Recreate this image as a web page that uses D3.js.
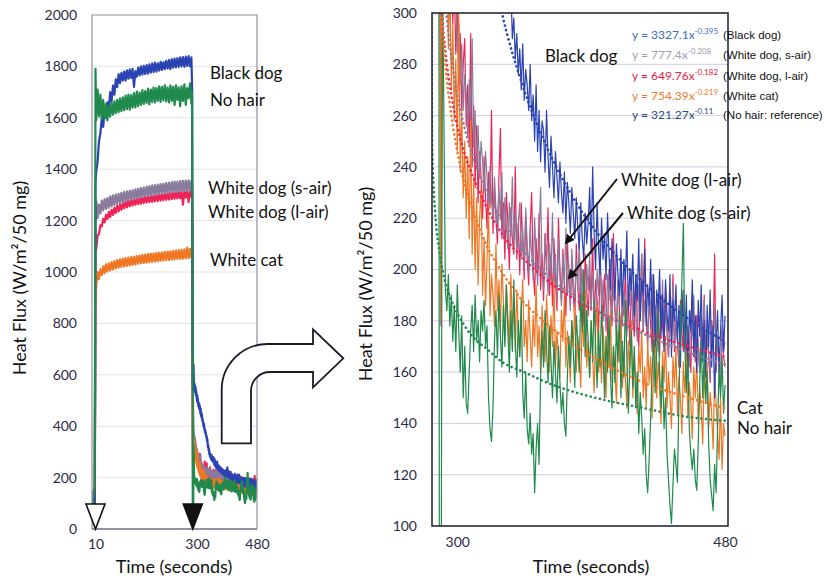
<!DOCTYPE html>
<html>
<head>
<meta charset="utf-8">
<script src="https://cdn.jsdelivr.net/npm/d3@7"></script>
<style>
  body { margin: 0; background: #fff; }
  svg { display: block; font-family: Lato, "Open Sans", sans-serif; }
  .tick text { fill: #2b2b45; font-size: 14px; font-family: Lato, sans-serif; }
  .label { fill: #111; font-size: 17px; }
  .eq { font-size: 12px; }
  .eq-name { font-family: "Liberation Sans", Arial, sans-serif; font-size: 11.5px; fill: #111; }
</style>
</head>
<body>
<div id="wrapper"></div>
<script>
// sampling times (seconds)
const riseTimes = [0, 4, 8, 10].concat(d3.range(12, 285, 4), [286]);
const decayTimes = d3.range(288, 481);
const trendTimes = [282.5, 283, 284, 285, 286, 288, 290, 293, 296, 300, 305, 310, 320, 330, 345, 360, 380, 400, 425, 450, 480];

// heat flux while the lamp is on (W/m2/50 mg)
const blackDogRise = [60, 40, 90, 1350,
  1390, 1430, 1510, 1540, 1600, 1565, 1630, 1600, 1660, 1635,
  1700, 1665, 1725, 1690, 1750, 1720, 1770, 1735, 1775, 1745,
  1780, 1745, 1785, 1752, 1788, 1755, 1790, 1720, 1782, 1760,
  1795, 1765, 1800, 1768, 1802, 1770, 1805, 1772, 1808, 1776,
  1812, 1778, 1815, 1780, 1812, 1784, 1818, 1786, 1816, 1790,
  1822, 1792, 1825, 1790, 1828, 1795, 1830, 1796, 1832, 1798,
  1835, 1800, 1836, 1798, 1838, 1802, 1840, 1800, 1835,
  1720];
const noHairRise = [80, 120, 160, 1790,
  1590, 1710, 1605, 1690, 1595, 1670, 1600, 1655, 1590, 1645,
  1605, 1660, 1612, 1664, 1618, 1670, 1622, 1676, 1626, 1680,
  1630, 1686, 1634, 1690, 1632, 1688, 1640, 1696, 1640, 1702,
  1645, 1698, 1650, 1708, 1654, 1704, 1658, 1714, 1652, 1710,
  1662, 1718, 1660, 1716, 1666, 1722, 1662, 1720, 1668, 1726,
  1664, 1718, 1660, 1726, 1666, 1720, 1650, 1726, 1670, 1718,
  1645, 1722, 1666, 1730, 1650, 1716, 1676, 1734, 1655,
  1700];
const whiteDogSAirRise = [70, 100, 140, 1200,
  1275, 1210, 1262, 1228, 1278, 1240, 1284, 1246, 1288, 1250,
  1294, 1255, 1298, 1260, 1302, 1265, 1304, 1270, 1308, 1272,
  1312, 1275, 1314, 1280, 1317, 1282, 1318, 1285, 1322, 1286,
  1324, 1290, 1327, 1292, 1328, 1294, 1332, 1296, 1334, 1298,
  1337, 1300, 1338, 1302, 1340, 1304, 1342, 1305, 1344, 1308,
  1346, 1308, 1348, 1310, 1350, 1312, 1352, 1312, 1352, 1314,
  1354, 1315, 1355, 1316, 1356, 1316, 1357, 1318, 1355,
  1330];
const whiteDogLAirRise = [90, 130, 120, 1150,
  1088, 1142, 1148, 1182, 1178, 1207, 1193, 1222, 1206, 1234,
  1214, 1242, 1222, 1250, 1230, 1257, 1236, 1263, 1242, 1269,
  1248, 1274, 1252, 1278, 1256, 1282, 1259, 1284, 1262, 1287,
  1264, 1288, 1266, 1291, 1268, 1294, 1270, 1296, 1272, 1297,
  1273, 1299, 1275, 1301, 1276, 1303, 1278, 1304, 1279, 1306,
  1281, 1307, 1282, 1309, 1284, 1310, 1285, 1312, 1286, 1313,
  1287, 1314, 1262, 1315, 1290, 1316, 1272, 1318, 1292,
  1295];
const whiteCatRise = [150, 110, 180, 900,
  948, 1000, 972, 1010, 988, 1022, 996, 1030, 1002, 1034,
  1006, 1038, 1010, 1042, 1014, 1046, 1017, 1049, 1020, 1052,
  1022, 1054, 1024, 1056, 1026, 1058, 1028, 1060, 1030, 1062,
  1032, 1064, 1034, 1066, 1035, 1068, 1036, 1070, 1038, 1071,
  1040, 1072, 1041, 1074, 1042, 1075, 1044, 1076, 1045, 1078,
  1046, 1079, 1047, 1080, 1048, 1082, 1049, 1083, 1050, 1085,
  1051, 1086, 1052, 1088, 1053, 1095, 1054, 1090, 1056,
  1075];

// heat flux after the lamp is switched off, one value per second from 288 s
const blackDogDecay = [
  560, 610, 640, 575, 540, 565, 548, 530, 552, 520,
  535, 512, 498, 520, 490, 505, 478, 492, 470, 486,
  462, 475, 450, 468, 440, 452, 432, 445, 420, 428,
  415, 405, 398, 410, 388, 392, 376, 384, 368, 372,
  356, 362, 342, 350, 332, 318, 325, 305, 312, 290,
  298, 282, 292, 276, 286, 270, 288, 266, 278, 272,
  262, 280, 258, 268, 250, 272, 246, 262, 242, 258,
  254, 238, 262, 244, 232, 252, 240, 228, 246, 236,
  226, 242, 230, 222, 238, 218, 234, 226, 214, 232,
  222, 212, 228, 216, 208, 226, 212, 204, 222, 210,
  218, 232, 206, 240, 214, 200, 226, 208, 198, 220,
  204, 214, 196, 222, 206, 192, 212, 200, 188, 210,
  198, 190, 208, 186, 204, 196, 215, 184, 200, 192,
  206, 182, 198, 188, 212, 180, 196, 190, 208, 178,
  194, 186, 204, 176, 198, 170, 192, 184, 200, 174,
  190, 168, 196, 182, 176, 198, 166, 188, 180, 194,
  172, 186, 162, 192, 178, 168, 190, 158, 184, 176,
  196, 166, 182, 160, 188, 174, 194, 164, 180, 158,
  186, 170, 192, 162, 178, 150, 172, 184, 160, 176,
  190, 168, 182];
const whiteDogSAirDecay = [
  600, 460, 400, 372, 345, 360, 328, 342, 315, 326,
  300, 312, 285, 296, 272, 288, 262, 276, 268, 252,
  274, 258, 290, 248, 262, 240, 256, 236, 250, 242,
  230, 246, 236, 222, 240, 228, 218, 236, 224, 214,
  232, 220, 238, 212, 228, 216, 208, 226, 214, 236,
  210, 222, 206, 218, 226, 204, 216, 200, 224, 210,
  198, 216, 206, 196, 220, 204, 194, 212, 232, 200,
  192, 214, 202, 190, 210, 198, 222, 194, 206, 188,
  212, 198, 186, 206, 194, 216, 190, 202, 184, 208,
  196, 186, 204, 192, 212, 184, 200, 190, 180, 202,
  192, 206, 184, 198, 188, 178, 200, 190, 210, 182,
  196, 186, 176, 198, 188, 204, 180, 194, 184, 174,
  196, 186, 202, 178, 192, 182, 174, 194, 186, 200,
  178, 190, 182, 172, 194, 184, 206, 176, 188, 180,
  170, 192, 182, 198, 174, 186, 178, 168, 190, 180,
  196, 172, 184, 176, 166, 188, 178, 194, 170, 182,
  174, 164, 186, 176, 192, 168, 180, 172, 162, 184,
  174, 190, 166, 178, 170, 160, 182, 172, 188, 164,
  176, 168, 158, 180, 170, 186, 162, 174, 166, 156,
  178, 168, 172];
const whiteDogLAirDecay = [
  450, 178, 330, 365, 342, 318, 350, 305, 326, 296,
  312, 284, 302, 270, 292, 262, 280, 290, 256, 272,
  248, 292, 240, 264, 232, 256, 226, 246, 236, 220,
  244, 228, 216, 238, 224, 262, 214, 232, 220, 210,
  236, 255, 212, 226, 204, 230, 218, 200, 224, 212,
  206, 240, 204, 218, 198, 226, 210, 196, 222, 204,
  194, 216, 230, 200, 190, 212, 198, 222, 192, 206,
  188, 214, 200, 224, 190, 206, 186, 212, 196, 184,
  220, 200, 188, 208, 194, 182, 212, 196, 186, 204,
  190, 180, 210, 194, 184, 202, 188, 178, 206, 192,
  182, 198, 186, 212, 180, 196, 188, 176, 204, 190,
  180, 198, 186, 174, 200, 188, 178, 214, 184, 176,
  196, 184, 172, 192, 182, 200, 176, 188, 170, 194,
  182, 174, 198, 180, 170, 190, 206, 176, 212, 184,
  172, 188, 178, 168, 196, 180, 172, 186, 166, 190,
  178, 170, 194, 176, 166, 184, 174, 198, 168, 180,
  172, 162, 188, 176, 168, 184, 164, 178, 170, 160,
  186, 172, 164, 182, 170, 160, 178, 168, 190, 162,
  174, 166, 156, 180, 170, 206, 160, 174, 164, 154,
  176, 166, 162];
const whiteCatDecay = [
  380, 182, 320, 345, 300, 330, 286, 312, 270, 296,
  258, 282, 246, 300, 238, 262, 228, 250, 220, 244,
  212, 258, 206, 236, 200, 228, 194, 220, 232, 190,
  212, 186, 204, 226, 182, 198, 190, 178, 210, 184,
  196, 176, 202, 188, 172, 194, 182, 170, 198, 178,
  186, 168, 192, 176, 166, 184, 196, 170, 180, 164,
  188, 174, 162, 182, 170, 194, 166, 178, 160, 186,
  172, 164, 190, 176, 160, 182, 170, 196, 162, 176,
  166, 158, 184, 172, 190, 162, 176, 168, 156, 180,
  170, 186, 160, 174, 166, 154, 182, 170, 192, 162,
  172, 158, 180, 166, 152, 176, 186, 160, 170, 156,
  178, 166, 150, 174, 162, 184, 156, 170, 160, 148,
  176, 164, 182, 154, 168, 158, 146, 172, 162, 180,
  150, 166, 158, 144, 170, 160, 176, 150, 162, 146,
  172, 156, 166, 142, 160, 178, 150, 164, 154, 140,
  168, 156, 174, 146, 160, 150, 138, 166, 154, 170,
  144, 158, 150, 136, 164, 152, 168, 142, 156, 148,
  134, 162, 150, 166, 140, 154, 146, 132, 160, 150,
  164, 138, 152, 144, 130, 158, 148, 136, 126, 150,
  122, 140, 135];
const noHairDecay = [
  20, 8, 320, 260, 192, 184, 198, 178, 190, 172,
  186, 168, 194, 176, 160, 182, 150, 170, 148, 144,
  160, 176, 186, 168, 190, 172, 180, 164, 184, 176,
  188, 170, 178, 150, 138, 133, 146, 172, 184, 166,
  190, 174, 162, 186, 170, 194, 176, 160, 184, 168,
  196, 172, 158, 180, 166, 188, 152, 142, 160, 138,
  132, 144, 128, 136, 113, 130, 140, 124, 158, 176,
  162, 184, 170, 156, 178, 164, 150, 172, 160, 148,
  170, 156, 144, 152, 140, 135, 158, 174, 162, 180,
  168, 154, 182, 172, 160, 190, 176, 200, 166, 184,
  172, 158, 180, 164, 188, 170, 154, 176, 162, 186,
  168, 150, 174, 160, 182, 158, 146, 170, 156, 178,
  164, 184, 150, 172, 158, 188, 166, 144, 162, 176,
  154, 170, 146, 160, 136, 152, 142, 128, 138, 120,
  113, 126, 142, 160, 174, 152, 168, 184, 160, 146,
  162, 138, 150, 128, 118, 108, 101, 116, 130, 124,
  117, 150, 176, 196, 218, 170, 152, 166, 138, 128,
  122, 130, 118, 114, 132, 156, 172, 150, 168, 148,
  160, 132, 118, 112, 106, 124, 113, 138, 162, 150,
  166, 144, 155];

// power-law trend lines
const blackDogTrend = [1820, 1385, 1054, 897, 801, 682, 609, 537, 488, 442, 401, 371, 329, 300, 270, 248, 226, 210, 195, 183, 172];
const whiteDogSAirTrend = [566, 490, 424, 390, 367, 337, 318, 298, 283, 268, 255, 245, 230, 219, 207, 198, 189, 182, 175, 169, 163];
const whiteDogLAirTrend = [492, 433, 382, 355, 337, 313, 297, 280, 268, 256, 245, 237, 224, 214, 204, 196, 188, 182, 176, 171, 166];
const whiteCatTrend = [540, 464, 399, 365, 342, 313, 294, 274, 260, 246, 233, 224, 209, 199, 187, 179, 170, 163, 156, 151, 146];
const noHairTrend = [320, 252, 233, 223, 216, 207, 200, 193, 188, 183, 178, 174, 169, 164, 160, 156, 152, 149, 146, 143, 141];

// drawing order, bottom to top
const seriesNames = ["White dog (l-air)", "White dog (s-air)", "White cat", "Black dog", "No hair"];
const equations = [
  { coef: "3327.1", exp: "-0.395", note: "(Black dog)" },
  { coef: "777.4", exp: "-0.208", note: "(White dog, s-air)" },
  { coef: "649.76", exp: "-0.182", note: "(White dog, l-air)" },
  { coef: "754.39", exp: "-0.219", note: "(White cat)" },
  { coef: "321.27", exp: "-0.11", note: "(No hair: reference)" },
];
const leftTicks = d3.range(0, 2001, 200);
const rightTicks = d3.range(100, 301, 20);
const markerTimes = [10, 288];

function drawChart() {
  //* Step 1. Access data
  const rises = [whiteDogLAirRise, whiteDogSAirRise, whiteCatRise, blackDogRise, noHairRise];
  const decays = [whiteDogLAirDecay, whiteDogSAirDecay, whiteCatDecay, blackDogDecay, noHairDecay];
  const trends = [whiteDogLAirTrend, whiteDogSAirTrend, whiteCatTrend, blackDogTrend, noHairTrend];
  const colors = ["#ee2458", "#8a7b9c", "#ef7622", "#2b43b2", "#1f8a4c"];

  const series = seriesNames.map((name, i) => ({
    name,
    color: colors[i],
    points: riseTimes.map((t, j) => ({ t, v: rises[i][j] }))
      .concat(decayTimes.map((t, j) => ({ t, v: decays[i][j] }))),
    trend: trendTimes.map((t, j) => ({ t, v: trends[i][j] })),
  }));

  //* Step 2. Create chart dimensions
  const dimensions = { width: 829, height: 581 };
  const leftBox = { x0: 92, x1: 257, y0: 15, y1: 529 };
  const rightBox = { x0: 432, x1: 728, y0: 13, y1: 526 };

  //* Step 3. Draw canvas
  const wrapper = d3.select("#wrapper").append("svg")
    .attr("width", dimensions.width)
    .attr("height", dimensions.height);

  const defs = wrapper.append("defs");
  defs.append("clipPath").attr("id", "clip-left").append("rect")
    .attr("x", leftBox.x0).attr("y", leftBox.y0)
    .attr("width", leftBox.x1 - leftBox.x0).attr("height", leftBox.y1 - leftBox.y0);
  defs.append("clipPath").attr("id", "clip-right").append("rect")
    .attr("x", rightBox.x0).attr("y", rightBox.y0)
    .attr("width", rightBox.x1 - rightBox.x0).attr("height", rightBox.y1 - rightBox.y0);
  defs.append("marker").attr("id", "head")
    .attr("viewBox", "0 0 10 10").attr("refX", 8).attr("refY", 5)
    .attr("markerWidth", 5).attr("markerHeight", 5).attr("orient", "auto")
    .append("path").attr("d", "M0,0 L10,5 L0,10 Z").attr("fill", "#111");

  //* Step 4. Create scales
  const xLeft = d3.scaleLinear().domain([0, 300, 480]).range([leftBox.x0, 197, leftBox.x1]);
  const yLeft = d3.scaleLinear().domain([0, 2000]).range([leftBox.y1, leftBox.y0]);
  const xRight = d3.scaleLinear().domain([283, 482]).range([rightBox.x0, rightBox.x1]);
  const yRight = d3.scaleLinear().domain([100, 300]).range([rightBox.y1, rightBox.y0]);

  //* Step 5. Draw peripherals (grid and axes)
  wrapper.append("g").selectAll("line").data(leftTicks.slice(1, -1)).join("line")
    .attr("x1", leftBox.x0).attr("x2", leftBox.x1)
    .attr("y1", (d) => yLeft(d)).attr("y2", (d) => yLeft(d))
    .attr("stroke", "#e4e4ea");
  wrapper.append("g").selectAll("line").data(rightTicks.slice(1, -1)).join("line")
    .attr("x1", rightBox.x0).attr("x2", rightBox.x1)
    .attr("y1", (d) => yRight(d)).attr("y2", (d) => yRight(d))
    .attr("stroke", "#d3cbe6");

  const yAxisLeft = wrapper.append("g")
    .attr("transform", `translate(${leftBox.x0},0)`)
    .call(d3.axisLeft(yLeft).tickValues(leftTicks).tickFormat(d3.format("d")).tickSize(0).tickPadding(15));
  const xAxisLeft = wrapper.append("g")
    .attr("transform", `translate(0,${leftBox.y1})`)
    .call(d3.axisBottom(xLeft).tickValues([10, 300, 480]).tickSize(0).tickPadding(10));
  const yAxisRight = wrapper.append("g")
    .attr("transform", `translate(${rightBox.x0},0)`)
    .call(d3.axisLeft(yRight).tickValues(rightTicks).tickSize(0).tickPadding(15));
  const xAxisRight = wrapper.append("g")
    .attr("transform", `translate(0,${rightBox.y1})`)
    .call(d3.axisBottom(xRight).tickValues([300, 480]).tickSize(0).tickPadding(11));
  [yAxisLeft, xAxisLeft, yAxisRight, xAxisRight].forEach((a) => a.select(".domain").remove());

  //* Step 6. Draw data
  const lineLeft = d3.line().x((d) => xLeft(d.t)).y((d) => yLeft(d.v));
  const lineRight = d3.line().x((d) => xRight(d.t)).y((d) => yRight(d.v));
  const trendLine = d3.line().x((d) => xRight(d.t)).y((d) => yRight(d.v)).curve(d3.curveMonotoneX);

  wrapper.append("g").attr("clip-path", "url(#clip-left)")
    .selectAll("path").data(series).join("path")
    .attr("d", (d) => lineLeft(d.points))
    .attr("fill", "none").attr("stroke", (d) => d.color)
    .attr("stroke-width", 2.2).attr("stroke-linejoin", "round");

  const rightData = wrapper.append("g").attr("clip-path", "url(#clip-right)");
  rightData.selectAll(".raw").data(series).join("path")
    .attr("class", "raw")
    .attr("d", (d) => lineRight(d.points))
    .attr("fill", "none").attr("stroke", (d) => d.color)
    .attr("stroke-width", 1.2).attr("stroke-linejoin", "round");
  rightData.selectAll(".trend").data(series).join("path")
    .attr("class", "trend")
    .attr("d", (d) => trendLine(d.trend))
    .attr("fill", "none").attr("stroke", (d) => d.color)
    .attr("stroke-width", 2.6).attr("stroke-linecap", "round")
    .attr("stroke-dasharray", "0.1,4.6");

  // frames
  wrapper.append("path")
    .attr("d", `M${leftBox.x0},${leftBox.y1}V${leftBox.y0}H${leftBox.x1}V${leftBox.y1}`)
    .attr("fill", "none").attr("stroke", "#8e8ea6").attr("stroke-width", 1.2);
  wrapper.append("line")
    .attr("x1", leftBox.x0).attr("x2", leftBox.x1)
    .attr("y1", leftBox.y1).attr("y2", leftBox.y1)
    .attr("stroke", "#6e6e86").attr("stroke-width", 1.4);
  wrapper.append("rect")
    .attr("x", rightBox.x0).attr("y", rightBox.y0)
    .attr("width", rightBox.x1 - rightBox.x0).attr("height", rightBox.y1 - rightBox.y0)
    .attr("fill", "none").attr("stroke", "#1c1c2c").attr("stroke-width", 1.5);

  // lamp on / off markers
  wrapper.append("g").selectAll("path").data(markerTimes).join("path")
    .attr("d", (d) => `M${xLeft(d) - 9.5},${leftBox.y1 - 25}h19l-9.5,25z`)
    .attr("fill", (d, i) => (i === 0 ? "#fff" : "#111"))
    .attr("stroke", "#111").attr("stroke-width", 1.6).attr("stroke-linejoin", "miter");

  // curved arrow between the panels
  wrapper.append("path")
    .attr("d", "M221.7,443.3V390A46,46 0 0 1 267.7,344H313V329.3L343.3,358.3L313,387.3V372H270A19,19 0 0 0 251,391V443.3Z")
    .attr("fill", "#fff").attr("stroke", "#1a1a2a").attr("stroke-width", 1.8);

  //* Step 7. Labels
  const yTitle = "Heat Flux (W/m\u00b2/50 mg)";
  [[19, 278], [365, 284]].forEach(([x, y]) => {
    wrapper.append("text")
      .attr("transform", `translate(${x},${y}) rotate(-90)`)
      .attr("text-anchor", "middle").attr("dominant-baseline", "central")
      .attr("font-size", 18).attr("fill", "#111")
      .text(yTitle);
  });
  [174, 591].forEach((x) => {
    wrapper.append("text")
      .attr("x", x).attr("y", 573)
      .attr("text-anchor", "middle").attr("font-size", 18).attr("fill", "#111")
      .text("Time (seconds)");
  });

  const leftLabels = [
    { text: "Black dog", x: 210, y: 79 },
    { text: "No hair", x: 210, y: 106 },
    { text: "White dog (s-air)", x: 208, y: 194 },
    { text: "White dog (l-air)", x: 208, y: 218 },
    { text: "White cat", x: 210, y: 266 },
  ];
  wrapper.append("g").selectAll("text").data(leftLabels).join("text")
    .attr("class", "label")
    .attr("x", (d) => d.x).attr("y", (d) => d.y)
    .text((d) => d.text);

  const rightLabels = [
    { text: "Black dog", x: 545, y: 62, size: 18 },
    { text: "White dog (l-air)", x: 621, y: 186, size: 17 },
    { text: "White dog (s-air)", x: 627, y: 219, size: 17 },
    { text: "Cat", x: 737, y: 414, size: 17 },
    { text: "No hair", x: 737, y: 434, size: 17 },
  ];
  wrapper.append("g").selectAll("text").data(rightLabels).join("text")
    .attr("class", "label")
    .attr("x", (d) => d.x).attr("y", (d) => d.y)
    .attr("font-size", (d) => d.size)
    .text((d) => d.text);

  const pointers = [
    { x1: 617, y1: 179, x2: 566, y2: 243 },
    { x1: 623, y1: 213, x2: 569, y2: 278 },
  ];
  wrapper.append("g").selectAll("line").data(pointers).join("line")
    .attr("x1", (d) => d.x1).attr("y1", (d) => d.y1)
    .attr("x2", (d) => d.x2).attr("y2", (d) => d.y2)
    .attr("stroke", "#111").attr("stroke-width", 2)
    .attr("marker-end", "url(#head)");

  // fitted equations
  const eqColors = ["#3d6cc2", "#a09cb0", "#e8203e", "#f07a2c", "#1f4f7c"];
  const eqRows = [39, 59, 80, 100, 119];
  const eqGroup = wrapper.append("g");
  equations.forEach((e, i) => {
    const t = eqGroup.append("text")
      .attr("class", "eq").attr("x", 632).attr("y", eqRows[i])
      .attr("fill", eqColors[i]);
    t.append("tspan").text(`y = ${e.coef}x`);
    t.append("tspan").attr("dy", -5).attr("font-size", 8).text(e.exp);
    eqGroup.append("text")
      .attr("class", "eq-name").attr("x", 723).attr("y", eqRows[i])
      .text(e.note);
  });
}
drawChart();
</script>
</body>
</html>
